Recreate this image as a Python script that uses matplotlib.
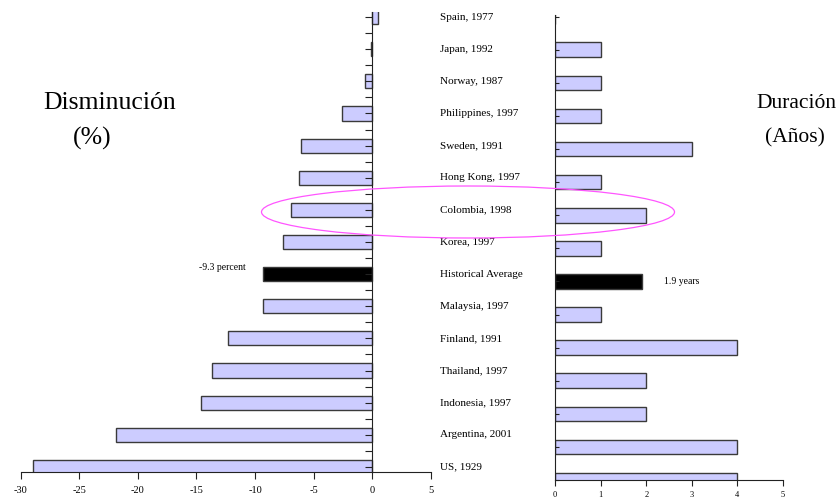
import numpy as np
import matplotlib
matplotlib.use("Agg")
import matplotlib.pyplot as plt
from matplotlib.patches import Ellipse

plt.rcParams['font.family'] = ['Liberation Serif', 'DejaVu Serif']

countries = ["Spain, 1977", "Japan, 1992", "Norway, 1987", "Philippines, 1997",
             "Sweden, 1991", "Hong Kong, 1997", "Colombia, 1998", "Korea, 1997",
             "Historical Average", "Malaysia, 1997", "Finland, 1991", "Thailand, 1997",
             "Indonesia, 1997", "Argentina, 2001", "US, 1929"]
decline = [0.45, -0.1, -0.6, -2.55, -6.05, -6.25, -6.9, -7.6,
           -9.3, -9.35, -12.35, -13.65, -14.65, -21.85, -28.95]
duration = [0, 1, 1, 1, 3, 1, 2, 1, 1.9, 1, 4, 2, 2, 4, 4]
avg_label_left = "-9.3 percent"
avg_label_right = "1.9 years"
avg_index = 8

light = "#ccccff"
edge = "#3a3a3a"
colors = [light] * len(countries)
colors[avg_index] = "black"
ypos = np.arange(len(countries))

fig = plt.figure(figsize=(8.4, 5.01), dpi=100)

# left panel: decline
ax1 = fig.add_axes([20.5 / 840, 1 - 472 / 501, 410.5 / 840, 460 / 501])
ax1.barh(ypos, decline, height=0.44, color=colors, edgecolor=edge, linewidth=1.0)
ax1.set_xlim(-30, 5)
ax1.set_ylim(14.156, -0.156)
ax1.spines['top'].set_visible(False)
ax1.spines['right'].set_visible(False)
ax1.spines['left'].set_position(('data', 0))
ax1.spines['left'].set_color("#222222")
ax1.spines['bottom'].set_color("#222222")
ax1.set_xticks(np.arange(-30, 6, 5))
ax1.set_xticklabels([str(v) for v in range(-30, 6, 5)], fontsize=7.5)
ax1.set_yticks(ypos)
ax1.set_yticks(np.arange(0.5, 14, 1), minor=True)
ax1.set_yticklabels([])
ax1.tick_params(axis='y', which='both', direction='out', length=5, width=0.8, color="#222222")
ax1.tick_params(axis='x', direction='out', length=5, width=0.8, pad=5, color="#222222")

for i, name in enumerate(countries):
    ax1.text(5.77, i, name, fontsize=8, ha='left', va='center', clip_on=False)
ax1.text(-10.8, avg_index - 0.2, avg_label_left, fontsize=7, ha='right', va='center')

# right panel: duration
ax2 = fig.add_axes([555 / 840, 1 - 480 / 501, 228 / 840, 465 / 501])
ax2.barh(ypos, duration, height=0.44, color=colors, edgecolor=edge, linewidth=1.0)
ax2.set_xlim(0, 5)
ax2.set_ylim(14, -0.05)
ax2.spines['top'].set_visible(False)
ax2.spines['right'].set_visible(False)
ax2.spines['left'].set_color("#222222")
ax2.spines['bottom'].set_color("#222222")
ax2.set_xticks(np.arange(0, 6, 1))
ax2.set_xticklabels([str(v) for v in range(0, 6)], fontsize=6)
ax2.set_yticks(ypos)
ax2.set_yticklabels([])
ax2.tick_params(axis='y', direction='in', length=3, width=0.8, color="#222222")
ax2.tick_params(axis='x', direction='out', length=4, width=0.8, pad=4, color="#222222")
ax2.text(2.4, avg_index, avg_label_right, fontsize=7, ha='left', va='center')

# side titles
fig.text(110 / 840, 1 - 103 / 501, "Disminución", fontsize=18.5, ha='center', va='center')
fig.text(92 / 840, 1 - 138 / 501, "(%)", fontsize=18.5, ha='center', va='center')
fig.text(796 / 840, 1 - 104 / 501, "Duración", fontsize=15.5, ha='center', va='center')
fig.text(795 / 840, 1 - 138 / 501, "(Años)", fontsize=15.5, ha='center', va='center')

# highlight around Colombia
ell = Ellipse((468 / 840, 1 - 212 / 501), 413 / 840, 52 / 501, transform=fig.transFigure,
              fill=False, edgecolor="#ff55ff", linewidth=0.9)
fig.patches.append(ell)

fig.savefig("out.png", dpi=100)
